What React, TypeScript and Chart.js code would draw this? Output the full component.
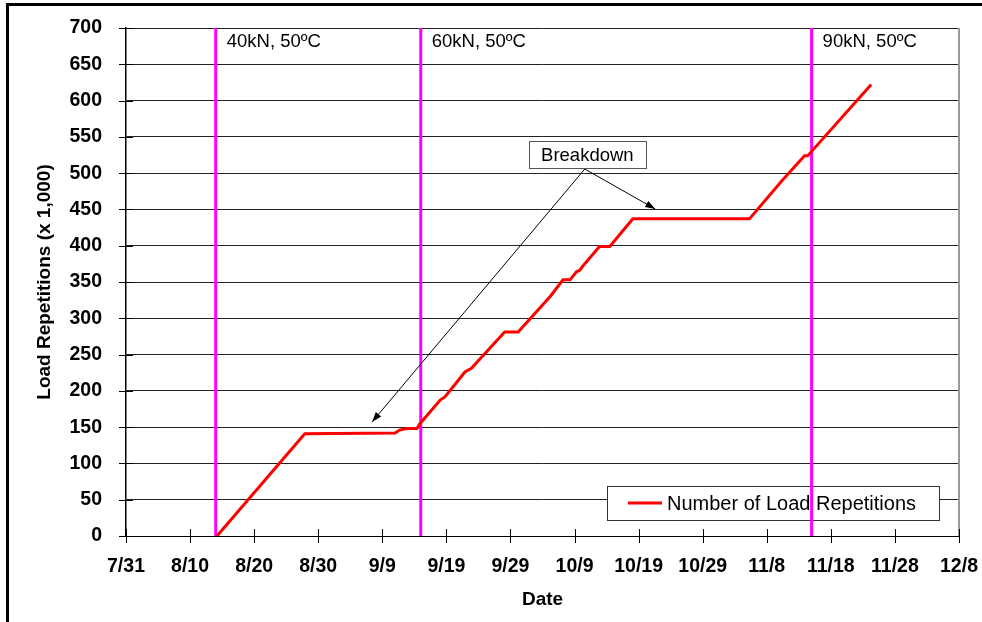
import React, { useEffect, useRef } from "react";
import { Chart, registerables } from "chart.js";
Chart.register(...registerables);

// X axis: days since 7/31, ticks every 10 days
const xTickLabels = ["7/31", "8/10", "8/20", "8/30", "9/9", "9/19", "9/29", "10/9", "10/19", "10/29", "11/8", "11/18", "11/28", "12/8"];

// Number of load repetitions (x 1,000) vs day since 7/31
const repDays = [14.2, 27.9, 42.0, 42.7, 43.8, 45.4, 45.9, 49.0, 49.8, 52.9, 53.9, 59.1, 61.2, 66.2, 68.2, 69.3, 70.3, 70.8, 71.3, 73.9, 75.5, 79.1, 97.3, 102.5, 105.9, 106.4, 107.0, 116.3];
const repValues = [0, 141, 142, 146, 148, 148, 155, 187, 192, 226, 231, 281, 281, 330, 353, 353, 364, 366, 372, 399, 399, 437, 437, 491, 524, 524, 530, 622];

// Load change markers
const loadDays = [14, 46, 107];
const loadLabels = ["40kN, 50ºC", "60kN, 50ºC", "90kN, 50ºC"];

// Breakdown annotation (data coordinates)
const breakdownLabel = "Breakdown";
const breakdownCenter = { x: 72.0, y: 525.7 };
const breakdownAnchor = { x: 71.6, y: 505.7 };
const breakdownTargets = [{ x: 38.4, y: 157.1 }, { x: 82.6, y: 450.6 }];

const seriesName = "Number of Load Repetitions";

const FONT = "'Liberation Sans', Arial, sans-serif";

function arrow(ctx: CanvasRenderingContext2D, x0: number, y0: number, x1: number, y1: number) {
  ctx.beginPath();
  ctx.moveTo(x0, y0);
  ctx.lineTo(x1, y1);
  ctx.stroke();
  const ang = Math.atan2(y1 - y0, x1 - x0);
  const len = 10, w = 3.5;
  ctx.beginPath();
  ctx.moveTo(x1, y1);
  ctx.lineTo(x1 - len * Math.cos(ang) + w * Math.sin(ang), y1 - len * Math.sin(ang) - w * Math.cos(ang));
  ctx.lineTo(x1 - len * Math.cos(ang) - w * Math.sin(ang), y1 - len * Math.sin(ang) + w * Math.cos(ang));
  ctx.closePath();
  ctx.fill();
}

const decorPlugin = {
  id: "decor",
  beforeDatasetsDraw(chart: any) {
    const { ctx, chartArea: ca, scales } = chart;
    const x = scales.x, y = scales.y;
    ctx.save();
    // right border
    ctx.strokeStyle = "#999";
    ctx.lineWidth = 2;
    ctx.beginPath();
    ctx.moveTo(ca.right, ca.top);
    ctx.lineTo(ca.right, ca.bottom);
    ctx.stroke();
    // tick marks
    ctx.strokeStyle = "#000";
    ctx.lineWidth = 1;
    x.ticks.forEach((t: any) => {
      const px = Math.round(x.getPixelForValue(t.value)) + 0.5;
      ctx.beginPath();
      ctx.moveTo(px, ca.bottom - 7);
      ctx.lineTo(px, ca.bottom + 7);
      ctx.stroke();
    });
    y.ticks.forEach((t: any) => {
      const py = Math.round(y.getPixelForValue(t.value)) + 0.5;
      ctx.beginPath();
      ctx.moveTo(ca.left - 7, py);
      ctx.lineTo(ca.left + 7, py);
      ctx.stroke();
    });
    // legend
    const lw = 332, lh = 34;
    const lx = ca.right - 20 - lw, ly = ca.bottom - 16 - lh;
    ctx.fillStyle = "#fff";
    ctx.fillRect(lx, ly, lw, lh);
    ctx.strokeStyle = "#333";
    ctx.lineWidth = 1;
    ctx.strokeRect(Math.round(lx) + 0.5, Math.round(ly) + 0.5, lw, lh);
    ctx.strokeStyle = "#ff0000";
    ctx.lineWidth = 3;
    ctx.beginPath();
    ctx.moveTo(lx + 21, ly + lh / 2);
    ctx.lineTo(lx + 55, ly + lh / 2);
    ctx.stroke();
    ctx.fillStyle = "#000";
    ctx.font = `20px ${FONT}`;
    ctx.textAlign = "left";
    ctx.textBaseline = "middle";
    ctx.fillText(seriesName, lx + 60, ly + lh / 2 + 1);
    ctx.restore();
  },
  afterDatasetsDraw(chart: any) {
    const { ctx, chartArea: ca, scales } = chart;
    const x = scales.x, y = scales.y;
    ctx.save();
    ctx.fillStyle = "#000";
    ctx.font = `18.5px ${FONT}`;
    ctx.textAlign = "left";
    ctx.textBaseline = "middle";
    loadDays.forEach((d, i) => {
      ctx.fillText(loadLabels[i], x.getPixelForValue(d) + 11, ca.top + 14);
    });
    // breakdown annotation
    const ax = x.getPixelForValue(breakdownAnchor.x), ay = y.getPixelForValue(breakdownAnchor.y);
    ctx.strokeStyle = "#000";
    ctx.lineWidth = 1;
    breakdownTargets.forEach((t) => {
      arrow(ctx, ax, ay, x.getPixelForValue(t.x), y.getPixelForValue(t.y));
    });
    const cx = x.getPixelForValue(breakdownCenter.x), cy = y.getPixelForValue(breakdownCenter.y);
    const bw = 117, bh = 27;
    ctx.fillStyle = "#fff";
    ctx.fillRect(cx - bw / 2, cy - bh / 2, bw, bh);
    ctx.strokeStyle = "#555";
    ctx.strokeRect(Math.round(cx - bw / 2) + 0.5, Math.round(cy - bh / 2) + 0.5, bw, bh);
    ctx.fillStyle = "#000";
    ctx.textAlign = "center";
    ctx.fillText(breakdownLabel, cx, cy + 1);
    ctx.restore();
  },
};

export default function App() {
  const ref = useRef<HTMLCanvasElement>(null);
  useEffect(() => {
    const datasets: any[] = [
      {
        label: seriesName,
        data: repDays.map((d, i) => ({ x: d, y: repValues[i] })),
        borderColor: "#ff0000",
        borderWidth: 3,
        pointRadius: 0,
        tension: 0,
        fill: false,
      },
      ...loadDays.map((d, i) => ({
        label: loadLabels[i],
        data: [{ x: d, y: 0 }, { x: d, y: 700 }],
        borderColor: "#ff00ff",
        borderWidth: 3,
        pointRadius: 0,
        fill: false,
      })),
    ];
    const chart = new Chart(ref.current!, {
      type: "line",
      data: { datasets },
      plugins: [decorPlugin],
      options: {
        responsive: false,
        devicePixelRatio: 1,
        animation: false,
        layout: { padding: { top: 28, right: 23, left: 0, bottom: 0 } },
        plugins: { legend: { display: false }, tooltip: { enabled: false } },
        font: { family: FONT },
        scales: {
          x: {
            type: "linear",
            min: 0,
            max: 130,
            afterFit: (s: any) => { s.height = 86; s.paddingLeft = 0; s.paddingRight = 0; },
            grid: { display: true, drawOnChartArea: false, drawTicks: false },
            border: { color: "#000", width: 1 },
            ticks: {
              stepSize: 10,
              autoSkip: false,
              maxRotation: 0,
              padding: 19,
              color: "#000",
              font: { family: FONT, size: 19.5, weight: "bold" },
              callback: (v: any) => xTickLabels[Math.round(Number(v) / 10)] ?? "",
            },
            title: {
              display: true,
              text: "Date",
              color: "#000",
              font: { family: FONT, size: 19, weight: "bold" },
              padding: { top: 0, bottom: 11 },
            },
          },
          y: {
            type: "linear",
            min: 0,
            max: 700,
            afterFit: (s: any) => { s.width = 126; s.paddingTop = 0; s.paddingBottom = 0; },
            grid: { color: "#222", lineWidth: 1, drawTicks: false },
            border: { color: "#000", width: 1.5 },
            ticks: {
              stepSize: 50,
              padding: 24,
              color: "#000",
              font: { family: FONT, size: 19.5, weight: "bold" },
            },
            title: {
              display: true,
              text: "Load Repetitions (x 1,000)",
              color: "#000",
              font: { family: FONT, size: 19, weight: "bold" },
              padding: { top: 33, bottom: 0 },
            },
          },
        },
      } as any,
    });
    return () => chart.destroy();
  }, []);
  return (
    <div style={{ position: "fixed", left: 0, top: 0, width: 982, height: 622, background: "#fff", overflow: "hidden" }}>
      <div style={{ position: "absolute", left: 6, top: 3, width: 1200, height: 1000, borderLeft: "3px solid #000", borderTop: "3px solid #000" }} />
      <canvas ref={ref} width={982} height={622} style={{ position: "absolute", left: 0, top: 0, width: 982, height: 622 }} />
    </div>
  );
}
